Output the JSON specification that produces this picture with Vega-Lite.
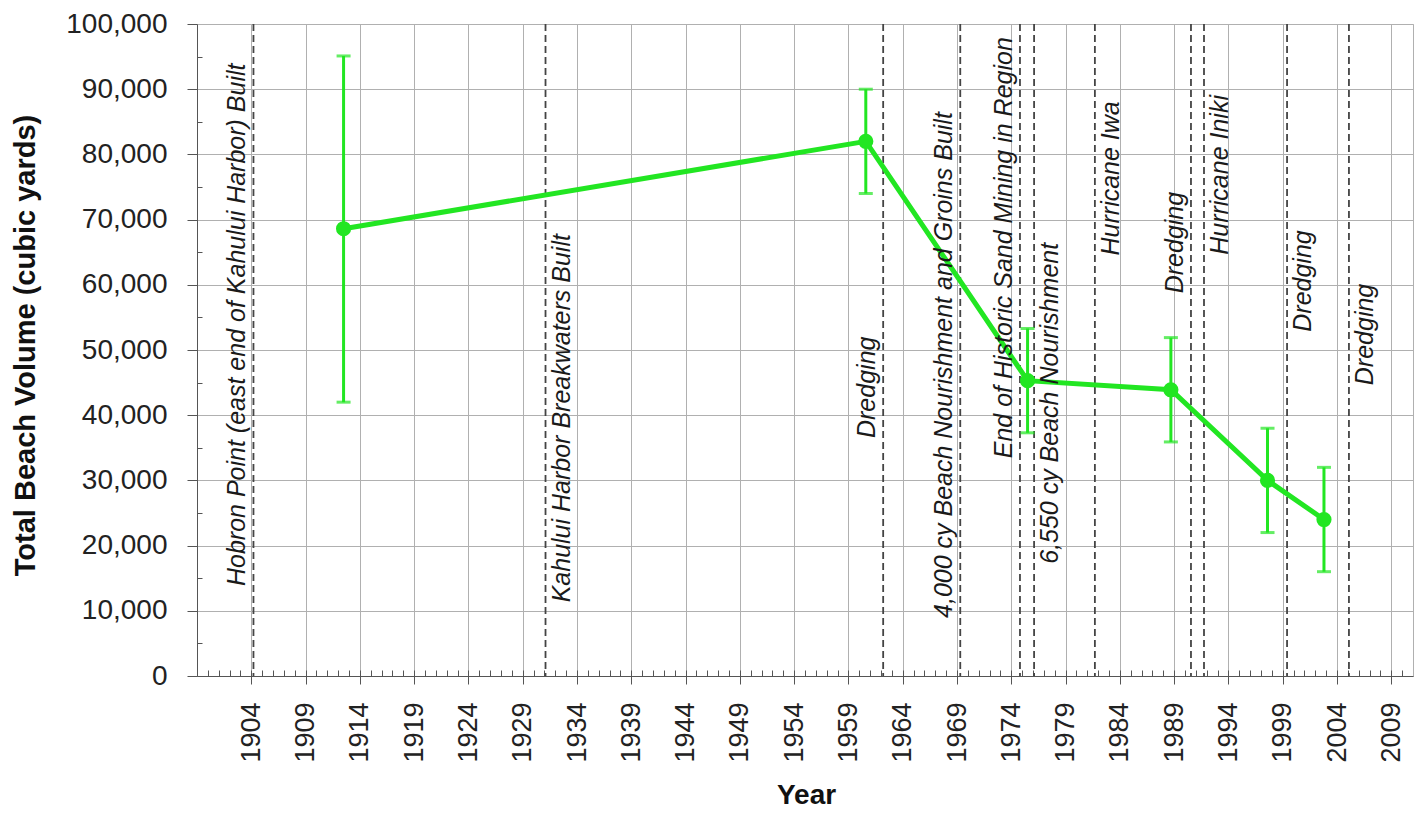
{
  "$schema": "https://vega.github.io/schema/vega-lite/v6.json",
  "width": 1216,
  "height": 652,
  "autosize": {"type": "none"},
  "padding": {"left": 197, "top": 24, "right": 12, "bottom": 140},
  "background": "white",
  "config": {
    "view": {"stroke": "#b0b0b0", "strokeWidth": 1},
    "font": "Liberation Sans",
    "axis": {"labelFont": "Liberation Sans", "titleFont": "Liberation Sans", "labelColor": "#222222", "titleColor": "#111111"}
  },
  "datasets": {
    "volume": [
      {"year": 1912.5, "volume": 68600, "low": 42000, "high": 95100},
      {"year": 1960.6, "volume": 82000, "low": 74000, "high": 90000},
      {"year": 1975.5, "volume": 45300, "low": 37300, "high": 53300},
      {"year": 1988.7, "volume": 43900, "low": 35900, "high": 51900},
      {"year": 1997.6, "volume": 30000, "low": 22000, "high": 38000},
      {"year": 2002.8, "volume": 24000, "low": 16000, "high": 32000}
    ],
    "events": [
      {"year": 1904.2, "event": "Hobron Point (east end of Kahului Harbor) Built", "side": "left", "label_y": 13800},
      {"year": 1931.1, "event": "Kahului  Harbor Breakwaters Built", "side": "right", "label_y": 11300},
      {"year": 1962.2, "event": "Dredging", "side": "left", "label_y": 36500},
      {"year": 1969.3, "event": "4,000 cy Beach Nourishment and Groins Built", "side": "left", "label_y": 8900},
      {"year": 1974.8, "event": "End of Historic Sand Mining in Region", "side": "left", "label_y": 33400},
      {"year": 1976.1, "event": "6,550 cy Beach Nourishment", "side": "right", "label_y": 17200},
      {"year": 1981.7, "event": "Hurricane Iwa", "side": "right", "label_y": 64500},
      {"year": 1990.55, "event": "Dredging", "side": "left", "label_y": 58700},
      {"year": 1991.75, "event": "Hurricane Iniki", "side": "right", "label_y": 64600},
      {"year": 1999.4, "event": "Dredging", "side": "right", "label_y": 52800},
      {"year": 2005.1, "event": "Dredging", "side": "right", "label_y": 44600}
    ]
  },
  "resolve": {"axis": {"x": "independent", "y": "independent"}},
  "layer": [
    {
      "data": {"name": "events"},
      "mark": {"type": "rule", "color": "#444444", "strokeDash": [7, 4], "strokeWidth": 1.8},
      "encoding": {
        "x": {
          "field": "year", "type": "quantitative",
          "scale": {"domain": [1899, 2011], "nice": false, "zero": false},
          "axis": {
            "orient": "bottom",
            "values": [1904, 1909, 1914, 1919, 1924, 1929, 1934, 1939, 1944, 1949, 1954, 1959, 1964, 1969, 1974, 1979, 1984, 1989, 1994, 1999, 2004, 2009],
            "format": "d", "labelAngle": -90, "labelFontSize": 27, "labelOverlap": false, "labelFlush": false,
            "tickSize": 8, "labelPadding": 18, "grid": true, "gridColor": "#b0b0b0", "gridWidth": 1,
            "domainColor": "#555555", "tickColor": "#555555",
            "title": "Year", "titleFontSize": 28, "titleFontWeight": "bold",
            "titleX": 609, "titleY": 119, "titleBaseline": "middle", "titleAlign": "center"
          }
        }
      }
    },
    {
      "data": {"name": "volume"},
      "mark": {"type": "rule", "color": "#22e622", "strokeWidth": 3},
      "encoding": {
        "x": {
          "field": "year", "type": "quantitative",
          "scale": {"domain": [1899, 2011], "nice": false, "zero": false},
          "axis": {
            "orient": "bottom",
            "values": [1900, 1901, 1902, 1903, 1904, 1905, 1906, 1907, 1908, 1909, 1910, 1911, 1912, 1913, 1914, 1915, 1916, 1917, 1918, 1919, 1920, 1921, 1922, 1923, 1924, 1925, 1926, 1927, 1928, 1929, 1930, 1931, 1932, 1933, 1934, 1935, 1936, 1937, 1938, 1939, 1940, 1941, 1942, 1943, 1944, 1945, 1946, 1947, 1948, 1949, 1950, 1951, 1952, 1953, 1954, 1955, 1956, 1957, 1958, 1959, 1960, 1961, 1962, 1963, 1964, 1965, 1966, 1967, 1968, 1969, 1970, 1971, 1972, 1973, 1974, 1975, 1976, 1977, 1978, 1979, 1980, 1981, 1982, 1983, 1984, 1985, 1986, 1987, 1988, 1989, 1990, 1991, 1992, 1993, 1994, 1995, 1996, 1997, 1998, 1999, 2000, 2001, 2002, 2003, 2004, 2005, 2006, 2007, 2008, 2009, 2010],
            "labels": false, "grid": false, "domain": false, "tickSize": -6, "tickColor": "#555555", "title": null
          }
        },
        "y": {
          "field": "low", "type": "quantitative",
          "scale": {"domain": [0, 100000], "nice": false},
          "axis": {
            "orient": "left",
            "values": [5000, 15000, 25000, 35000, 45000, 55000, 65000, 75000, 85000, 95000],
            "labels": false, "grid": false, "domain": false, "tickSize": -5, "tickColor": "#555555", "title": null
          }
        },
        "y2": {"field": "high"}
      }
    },
    {
      "data": {"name": "volume"},
      "mark": {"type": "tick", "orient": "horizontal", "color": "#22e622", "size": 14, "thickness": 3},
      "encoding": {
        "x": {"field": "year", "type": "quantitative", "scale": {"domain": [1899, 2011], "nice": false, "zero": false}, "axis": null},
        "y": {"field": "low", "type": "quantitative", "scale": {"domain": [0, 100000], "nice": false}, "axis": null}
      }
    },
    {
      "data": {"name": "volume"},
      "mark": {"type": "tick", "orient": "horizontal", "color": "#22e622", "size": 14, "thickness": 3},
      "encoding": {
        "x": {"field": "year", "type": "quantitative", "scale": {"domain": [1899, 2011], "nice": false, "zero": false}, "axis": null},
        "y": {"field": "high", "type": "quantitative", "scale": {"domain": [0, 100000], "nice": false}, "axis": null}
      }
    },
    {
      "data": {"name": "volume"},
      "mark": {"type": "line", "color": "#22e622", "strokeWidth": 5},
      "encoding": {
        "x": {"field": "year", "type": "quantitative", "scale": {"domain": [1899, 2011], "nice": false, "zero": false}, "axis": null},
        "y": {
          "field": "volume", "type": "quantitative",
          "scale": {"domain": [0, 100000], "nice": false},
          "axis": {
            "orient": "left",
            "values": [0, 10000, 20000, 30000, 40000, 50000, 60000, 70000, 80000, 90000, 100000],
            "format": ",d", "labelFontSize": 28, "tickSize": 10, "labelPadding": 20,
            "grid": true, "gridColor": "#b0b0b0", "gridWidth": 1,
            "domainColor": "#555555", "tickColor": "#555555",
            "title": "Total Beach Volume (cubic yards)", "titleFontSize": 29, "titleFontWeight": "bold",
            "titleX": -172, "titleY": 321, "titleAngle": -90, "titleAlign": "center", "titleBaseline": "middle"
          }
        }
      }
    },
    {
      "data": {"name": "volume"},
      "mark": {"type": "point", "filled": true, "color": "#22e622", "size": 230, "opacity": 1},
      "encoding": {
        "x": {"field": "year", "type": "quantitative", "scale": {"domain": [1899, 2011], "nice": false, "zero": false}, "axis": null},
        "y": {"field": "volume", "type": "quantitative", "scale": {"domain": [0, 100000], "nice": false}, "axis": null}
      }
    },
    {
      "data": {"name": "events"},
      "transform": [{"filter": "datum.side === 'left'"}],
      "mark": {"type": "text", "angle": 270, "align": "left", "baseline": "middle", "dy": -16, "fontStyle": "italic", "fontSize": 25, "font": "Liberation Sans", "color": "#1a1a1a"},
      "encoding": {
        "x": {"field": "year", "type": "quantitative", "scale": {"domain": [1899, 2011], "nice": false, "zero": false}, "axis": null},
        "y": {"field": "label_y", "type": "quantitative", "scale": {"domain": [0, 100000], "nice": false}, "axis": null},
        "text": {"field": "event"}
      }
    },
    {
      "data": {"name": "events"},
      "transform": [{"filter": "datum.side === 'right'"}],
      "mark": {"type": "text", "angle": 270, "align": "left", "baseline": "middle", "dy": 16, "fontStyle": "italic", "fontSize": 25, "font": "Liberation Sans", "color": "#1a1a1a"},
      "encoding": {
        "x": {"field": "year", "type": "quantitative", "scale": {"domain": [1899, 2011], "nice": false, "zero": false}, "axis": null},
        "y": {"field": "label_y", "type": "quantitative", "scale": {"domain": [0, 100000], "nice": false}, "axis": null},
        "text": {"field": "event"}
      }
    }
  ]
}
